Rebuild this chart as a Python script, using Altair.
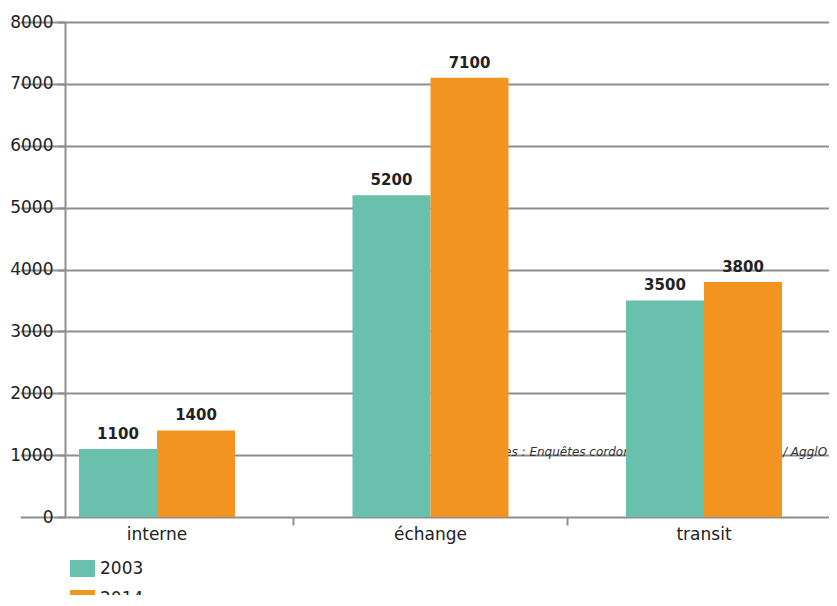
import altair as alt
import pandas as pd

categories = ["interne", "échange", "transit"]
years = ["2003", "2014"]
values_2003 = [1100, 5200, 3500]
values_2014 = [1400, 7100, 3800]
colors = ["#69c1ad", "#f39320"]
note = ["Sources : Enquêtes cordons 2003 et 2014 - Agglo 4 / AgglO"]

rows = []
for c, a, b in zip(categories, values_2003, values_2014):
    rows.append({"cat": c, "year": years[0], "v": a})
    rows.append({"cat": c, "year": years[1], "v": b})
df = pd.DataFrame(rows)
note_df = pd.DataFrame({"t": note})

FONT = "DejaVu Sans"
GRAY = "#8e8e8e"
W, H = 764, 495

xscale = alt.Scale(domain=categories, range=[-44.75, 775.75], paddingInner=0, paddingOuter=0)

x_labels = alt.X("cat:N", sort=categories, title=None, scale=xscale,
                 axis=alt.Axis(orient="bottom", labelAngle=0, ticks=False, domain=False, domainOpacity=0,
                               labelPadding=9, labelFont=FONT, labelFontSize=17, labelColor="#222"))
x_ticks = alt.X("cat:N", sort=categories, title=None, scale=xscale,
                axis=alt.Axis(orient="bottom", values=["échange", "transit"], labels=False, domain=False,
                              domainOpacity=0, bandPosition=0, tickSize=8, tickWidth=2, tickColor=GRAY))
xo = alt.XOffset("year:N", sort=years, scale=alt.Scale(paddingInner=0, paddingOuter=0.753))
y = alt.Y("v:Q", title=None,
          scale=alt.Scale(domain=[0, 8000], nice=False),
          axis=alt.Axis(values=list(range(0, 8001, 1000)), format="d", tickSize=8, tickWidth=2, tickColor=GRAY,
                        domainColor=GRAY, domainWidth=2, gridColor=GRAY, gridWidth=2,
                        labelPadding=4, labelFont=FONT, labelFontSize=17, labelColor="#222"))

color = alt.Color("year:N", sort=years, title=None,
                  scale=alt.Scale(domain=years, range=colors),
                  legend=alt.Legend(orient="none", legendX=5, legendY=534, direction="vertical",
                                    symbolType="M-1,-0.68H1V0.68H-1Z", symbolSize=625,
                                    symbolStrokeWidth=0, symbolOpacity=1, rowPadding=9, labelOffset=5,
                                    labelFont=FONT, labelFontSize=17, labelColor="#222", padding=0))

note_layer = alt.Chart(note_df).mark_text(
    align="left", baseline="middle", font=FONT, fontSize=12, fontStyle="italic", color="#333"
).encode(x=alt.value(405), y=alt.value(430), text="t:N")

bars = alt.Chart(df).mark_bar(opacity=1).encode(x=x_labels, xOffset=xo, y=y, color=color)
labels = alt.Chart(df).mark_text(
    baseline="alphabetic", dy=-10, font=FONT, fontSize=15, fontWeight="bold", color="#222"
).encode(x=x_ticks, xOffset=xo, y=y, text=alt.Text("v:Q", format="d"))

chart = alt.layer(note_layer, bars, labels).resolve_axis(x="independent").properties(
    width=W, height=H,
    autosize=alt.AutoSizeParams(type="none"),
    padding={"left": 57, "top": 14, "right": 0, "bottom": 78},
).configure_view(stroke=None).configure_axisX(domain=False)

chart.save("out.html", embed_options={"renderer": "svg", "actions": False})
